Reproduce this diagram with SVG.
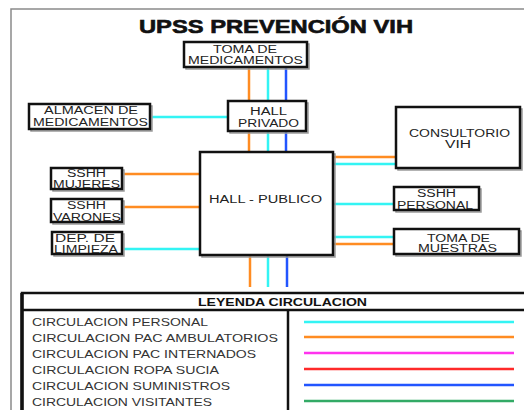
<svg xmlns="http://www.w3.org/2000/svg" width="524" height="410" viewBox="0 0 524 410">
  <defs>
    <style>
      .frame { fill: none; stroke: #8a8a8a; stroke-width: 1.5; }
      .box { fill: #ffffff; stroke: #111111; stroke-width: 2.5; }
      .shadow { fill: none; stroke: #9a9a9a; stroke-width: 1.5; }
      .lbl { font-family: "Liberation Sans", Arial, sans-serif; font-size: 10px; fill: #222222; }
      .title { font-family: "Liberation Sans", Arial, sans-serif; font-size: 18px; font-weight: bold; fill: #111111; stroke: #111111; stroke-width: 0.6; }
      .legtitle { font-family: "Liberation Sans", Arial, sans-serif; font-size: 11.5px; font-weight: bold; fill: #111111; }
      .legtxt { font-family: "Liberation Sans", Arial, sans-serif; font-size: 10.5px; fill: #333333; }
      .c { stroke-width: 2.5; fill: none; }
      .personal { stroke: #33f4f4; }
      .ambul { stroke: #ff8c22; }
      .intern { stroke: #ff33ee; }
      .ropa { stroke: #ff2a2a; }
      .sumin { stroke: #2255ff; }
      .visit { stroke: #33aa66; }
      .grid { fill: none; stroke: #111111; stroke-width: 2.5; }
    </style>
  </defs>

  <rect width="524" height="410" fill="#ffffff"/>

  <!-- sheet border -->
  <path class="frame" d="M11 412 V9 H526"/>

  <text class="title" x="139" y="33" textLength="274" lengthAdjust="spacingAndGlyphs">UPSS PREVENCIÓN VIH</text>

  <!-- circulation connectors -->
  <g id="connectors">
    <!-- toma de medicamentos to hall privado -->
    <line class="c ambul" x1="249" y1="67" x2="249" y2="101"/>
    <line class="c personal" x1="268" y1="67" x2="268" y2="101"/>
    <line class="c sumin" x1="286" y1="67" x2="286" y2="101"/>
    <!-- hall privado to hall publico -->
    <line class="c ambul" x1="249" y1="131" x2="249" y2="152"/>
    <line class="c personal" x1="268" y1="131" x2="268" y2="152"/>
    <line class="c sumin" x1="286" y1="131" x2="286" y2="152"/>
    <!-- hall publico downward exit -->
    <line class="c ambul" x1="250" y1="256" x2="250" y2="287"/>
    <line class="c personal" x1="268" y1="256" x2="268" y2="287"/>
    <line class="c sumin" x1="287" y1="256" x2="287" y2="287"/>
    <!-- almacen to hall privado -->
    <line class="c personal" x1="152" y1="117" x2="228" y2="117"/>
    <!-- left rooms to hall publico -->
    <line class="c ambul" x1="124" y1="174" x2="200" y2="174"/>
    <line class="c ambul" x1="124" y1="207" x2="200" y2="207"/>
    <line class="c personal" x1="124" y1="249" x2="200" y2="249"/>
    <!-- right rooms to hall publico -->
    <line class="c ambul" x1="334" y1="157" x2="396" y2="157"/>
    <line class="c personal" x1="334" y1="164" x2="396" y2="164"/>
    <line class="c personal" x1="334" y1="204" x2="394" y2="204"/>
    <line class="c personal" x1="334" y1="237" x2="394" y2="237"/>
    <line class="c ambul" x1="334" y1="244" x2="394" y2="244"/>
  </g>

  <g id="toma-medicamentos">
    <rect class="shadow" x="186" y="44" width="123" height="25"/>
    <rect class="box" x="184" y="42" width="123" height="25"/>
    <text class="lbl" x="213" y="53" textLength="64" lengthAdjust="spacingAndGlyphs">TOMA DE</text>
    <text class="lbl" x="188" y="64" textLength="115" lengthAdjust="spacingAndGlyphs">MEDICAMENTOS</text>
  </g>

  <g id="hall-privado">
    <rect class="shadow" x="230" y="103" width="78" height="30"/>
    <rect class="box" x="228" y="101" width="78" height="30"/>
    <text class="lbl" x="250" y="115" textLength="37" lengthAdjust="spacingAndGlyphs">HALL</text>
    <text class="lbl" x="238" y="127" textLength="61" lengthAdjust="spacingAndGlyphs">PRIVADO</text>
  </g>

  <g id="almacen-medicamentos">
    <rect class="shadow" x="31" y="106" width="121" height="25"/>
    <rect class="box" x="29" y="104" width="121" height="25"/>
    <text class="lbl" x="44" y="114" textLength="94" lengthAdjust="spacingAndGlyphs">ALMACEN DE</text>
    <text class="lbl" x="33" y="126" textLength="115" lengthAdjust="spacingAndGlyphs">MEDICAMENTOS</text>
  </g>

  <g id="consultorio-vih">
    <rect class="shadow" x="398" y="109" width="124" height="61"/>
    <rect class="box" x="396" y="107" width="124" height="61"/>
    <text class="lbl" x="409" y="137" textLength="101" lengthAdjust="spacingAndGlyphs">CONSULTORIO</text>
    <text class="lbl" x="445" y="148" textLength="26" lengthAdjust="spacingAndGlyphs">VIH</text>
  </g>

  <g id="hall-publico">
    <rect class="shadow" x="202" y="154" width="133" height="103"/>
    <rect class="box" x="200" y="152" width="133" height="103"/>
    <text class="lbl" x="209" y="203" textLength="113" lengthAdjust="spacingAndGlyphs">HALL - PUBLICO</text>
  </g>

  <g id="sshh-mujeres">
    <rect class="shadow" x="53" y="170" width="71" height="21"/>
    <rect class="box" x="51" y="168" width="71" height="21"/>
    <text class="lbl" x="67" y="177" textLength="39" lengthAdjust="spacingAndGlyphs">SSHH</text>
    <text class="lbl" x="53" y="188" textLength="67" lengthAdjust="spacingAndGlyphs">MUJERES</text>
  </g>

  <g id="sshh-varones">
    <rect class="shadow" x="53" y="201" width="71" height="23"/>
    <rect class="box" x="51" y="199" width="71" height="23"/>
    <text class="lbl" x="67" y="209" textLength="39" lengthAdjust="spacingAndGlyphs">SSHH</text>
    <text class="lbl" x="53" y="221" textLength="68" lengthAdjust="spacingAndGlyphs">VARONES</text>
  </g>

  <g id="dep-limpieza">
    <rect class="shadow" x="54" y="234" width="70" height="22"/>
    <rect class="box" x="52" y="232" width="70" height="22"/>
    <text class="lbl" x="55" y="242" textLength="60" lengthAdjust="spacingAndGlyphs">DEP. DE</text>
    <text class="lbl" x="54" y="253" textLength="64" lengthAdjust="spacingAndGlyphs">LIMPIEZA</text>
  </g>

  <g id="sshh-personal">
    <rect class="shadow" x="396" y="189" width="85" height="23"/>
    <rect class="box" x="394" y="187" width="85" height="23"/>
    <text class="lbl" x="417" y="197" textLength="39" lengthAdjust="spacingAndGlyphs">SSHH</text>
    <text class="lbl" x="397" y="209" textLength="76" lengthAdjust="spacingAndGlyphs">PERSONAL</text>
  </g>

  <g id="toma-muestras">
    <rect class="shadow" x="396" y="231" width="125" height="25"/>
    <rect class="box" x="394" y="229" width="125" height="25"/>
    <text class="lbl" x="427" y="242" textLength="63" lengthAdjust="spacingAndGlyphs">TOMA DE</text>
    <text class="lbl" x="418" y="252" textLength="79" lengthAdjust="spacingAndGlyphs">MUESTRAS</text>
  </g>

  <!-- legend table -->
  <g id="leyenda">
    <rect class="grid" x="22" y="293" width="520" height="130"/>
    <line x1="22" y1="293" x2="22" y2="412" stroke="#111111" stroke-width="3.5"/>
    <line class="grid" x1="22" y1="310" x2="530" y2="310"/>
    <line class="grid" x1="288" y1="310" x2="288" y2="412"/>
    <text class="legtitle" x="198" y="306" textLength="169" lengthAdjust="spacingAndGlyphs">LEYENDA CIRCULACION</text>

    <text class="legtxt" x="32" y="326" textLength="176" lengthAdjust="spacingAndGlyphs">CIRCULACION PERSONAL</text>
    <text class="legtxt" x="32" y="342" textLength="246" lengthAdjust="spacingAndGlyphs">CIRCULACION PAC AMBULATORIOS</text>
    <text class="legtxt" x="32" y="358" textLength="224" lengthAdjust="spacingAndGlyphs">CIRCULACION PAC INTERNADOS</text>
    <text class="legtxt" x="32" y="374" textLength="187" lengthAdjust="spacingAndGlyphs">CIRCULACION ROPA SUCIA</text>
    <text class="legtxt" x="32" y="390" textLength="198" lengthAdjust="spacingAndGlyphs">CIRCULACION SUMINISTROS</text>
    <text class="legtxt" x="32" y="406" textLength="180" lengthAdjust="spacingAndGlyphs">CIRCULACION VISITANTES</text>

    <line class="c personal" x1="304" y1="322" x2="514" y2="322"/>
    <line class="c ambul" x1="304" y1="337" x2="514" y2="337"/>
    <line class="c intern" x1="304" y1="353" x2="514" y2="353"/>
    <line class="c ropa" x1="304" y1="369" x2="514" y2="369"/>
    <line class="c sumin" x1="304" y1="385" x2="514" y2="385"/>
    <line class="c visit" x1="304" y1="401" x2="514" y2="401"/>
  </g>
</svg>
